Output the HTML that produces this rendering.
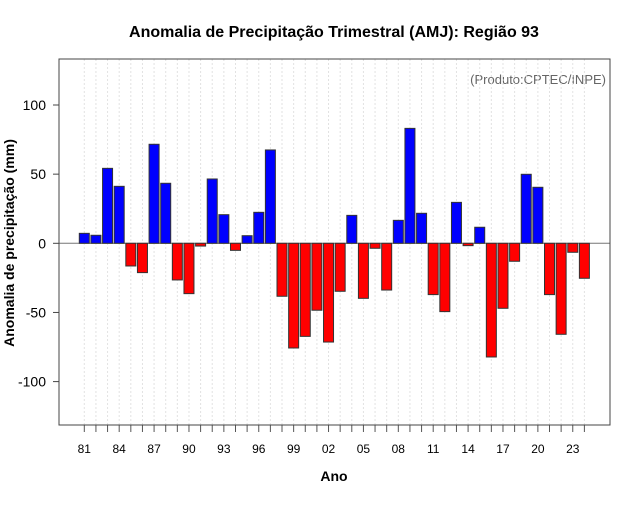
<!DOCTYPE html>
<html><head><meta charset="utf-8"><style>
body{margin:0;background:#fff;}
svg text{font-family:"Liberation Sans",sans-serif;}
</style></head><body>
<svg id="chart" width="640" height="500" viewBox="0 0 640 500">
<text x="334" y="37" text-anchor="middle" font-size="16" font-weight="bold" fill="#000">Anomalia de Precipitação Trimestral (AMJ): Região 93</text>
<text x="606" y="84" text-anchor="end" font-size="13" fill="#666">(Produto:CPTEC/INPE)</text>
<text x="334" y="481" text-anchor="middle" font-size="14" font-weight="bold">Ano</text>
<text transform="translate(14,243) rotate(-90)" text-anchor="middle" font-size="14" font-weight="bold">Anomalia de precipitação (mm)</text>
<g id="grid"></g><g id="bars"></g><g id="axes"></g>
<rect x="59" y="59" width="551" height="366" fill="none" stroke="#444" stroke-width="1"/>
</svg>
<script>
const years = [];
for (let y = 1981; y <= 2024; y++) years.push(y);
const values = [7.2,5.8,54.2,41.2,-16.4,-21.2,71.6,43.4,-26.5,-36.4,-2,46.5,20.7,-5.1,5.5,22.4,67.5,-38.3,-75.7,-67.3,-48.4,-71.4,-34.7,20.2,-39.8,-3.6,-33.8,16.6,83.1,21.7,-37.1,-49.4,29.6,-1.7,11.6,-82.2,-47,-13,49.9,40.5,-37.1,-65.8,-6.5,-25.3];
const yTicks = [-100,-50,0,50,100];
const NS='http://www.w3.org/2000/svg';
const y0=243.3, k=1.383;
function yS(v){return y0 - v*k;}
function xBar(i){return 84.3 + i*11.63;}
function mk(t,a,p){const e=document.createElementNS(NS,t);for(const n in a)e.setAttribute(n,a[n]);p.appendChild(e);return e;}
const grid=document.getElementById('grid'),bars=document.getElementById('bars'),axes=document.getElementById('axes');
years.forEach((yr,i)=>{
  const g=mk('line',{x1:xBar(i),x2:xBar(i),y1:59,y2:425,stroke:'#e2e2e2','stroke-dasharray':'2,2'},grid);
  
  
});
const zl=mk('line',{x1:59,x2:610,y1:y0,y2:y0,stroke:'#777','stroke-width':1},grid);


values.forEach((v,i)=>{
  const top=Math.min(yS(v),y0),h=Math.abs(yS(v)-y0);
  const r=mk('rect',{x:xBar(i)-5,y:top,width:10,height:h,fill:v>=0?'#0000ff':'#ff0000',stroke:'#333','stroke-width':1},bars);
  
  
});
yTicks.forEach(t=>{
  const l=mk('line',{x1:53,x2:59,y1:yS(t),y2:yS(t),stroke:'#444'},axes);
  
  
  const tx=mk('text',{x:46,y:yS(t)+5,'text-anchor':'end','font-size':14},axes);
  tx.textContent=t;
  
  
});
years.forEach((yr,i)=>{
  const l=mk('line',{x1:xBar(i),x2:xBar(i),y1:425,y2:432,stroke:'#555'},axes);
  
  
  if(i%3===0){
    const tx=mk('text',{x:xBar(i),y:453,'text-anchor':'middle','font-size':12},axes);
    tx.textContent=String(yr).slice(2);
    
    
  }
});
</script>
</body></html>
